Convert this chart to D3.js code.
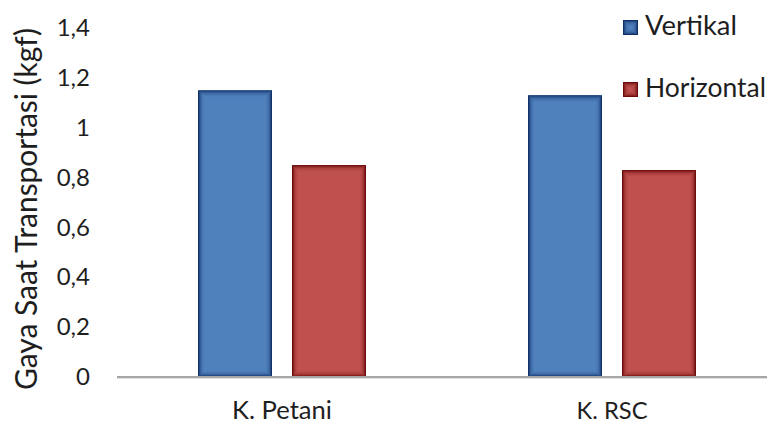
<!DOCTYPE html>
<html>
<head>
<meta charset="utf-8">
<script src="https://cdn.jsdelivr.net/npm/d3@7"></script>
<style>
  html, body { margin: 0; padding: 0; background: #fff; }
  svg { display: block; font-family: Lato, "Open Sans", sans-serif; }
</style>
</head>
<body>
<svg id="chart" width="767" height="425"></svg>
<script>
// Force during transport, per boat type
const categories = ["K. Petani", "K. RSC"];
const seriesNames = ["Vertikal", "Horizontal"];
const vertikal = [1.15, 1.13];
const horizontal = [0.85, 0.83];
const yTicks = [0, 0.2, 0.4, 0.6, 0.8, 1, 1.2, 1.4];
const yTickLabels = ["0", "0,2", "0,4", "0,6", "0,8", "1", "1,2", "1,4"];
const yTitle = "Gaya Saat Transportasi (kgf)";

const seriesValues = [vertikal, horizontal];
const fills = ["#4F81BD", "#C0504D"];
const edges = ["#0d2b62", "#650808"];
// opacities of the nested outlines that shade each bar's rim, outermost first
const rimOpacity = [0.95, 0.62, 0.38, 0.22, 0.12, 0.05];

const W = 767, H = 425;
const svg = d3.select("#chart");

const plotLeft = 117, baseY = 377, topY = 28;

const x0 = d3.scaleBand().domain(categories).range([plotLeft, plotLeft + 660]).padding(0);
const x1 = d3.scaleBand().domain(seriesNames).range([0, x0.bandwidth()])
  .paddingInner(0.2128).paddingOuter(0.862);
const y = d3.scaleLinear().domain([0, 1.4]).range([baseY, topY]);

// fit a text element's font size to a target width
function fitWidth(sel, target) {
  const node = sel.node();
  const fs = parseFloat(sel.attr("font-size"));
  const w = node.getComputedTextLength();
  sel.attr("font-size", (fs * target / w).toFixed(2));
}

// draws a filled box with a darkened rim fading inward
function bevelBox(g, x, yTop, w, h, si) {
  g.append("rect").attr("x", x).attr("y", yTop).attr("width", w).attr("height", h)
    .attr("fill", fills[si]);
  rimOpacity.forEach((op, k) => {
    const inset = k + 0.5;
    if (w - 2 * inset <= 0 || h - 2 * inset <= 0) return;
    g.append("rect")
      .attr("x", x + inset).attr("y", yTop + inset)
      .attr("width", w - 2 * inset).attr("height", h - 2 * inset)
      .attr("fill", "none").attr("stroke", edges[si]).attr("stroke-width", 1)
      .attr("stroke-opacity", op);
  });
}

// Y axis labels
const yAxis = d3.axisLeft(y).tickValues(yTicks)
  .tickFormat((d, i) => yTickLabels[i]).tickSize(0).tickPadding(27);
const gy = svg.append("g").attr("transform", `translate(${plotLeft},0)`).call(yAxis);
gy.select(".domain").remove();
gy.selectAll("text").attr("font-size", 24).attr("fill", "#1e1e1e")
  .style("font-family", "Lato, 'Open Sans', sans-serif");

// Y title
const title = svg.append("text")
  .attr("transform", `translate(37,${(28 + 390) / 2}) rotate(-90)`)
  .attr("text-anchor", "middle").attr("font-size", 28).attr("fill", "#1e1e1e")
  .text(yTitle);
fitWidth(title, 362);

// Bars
const groups = svg.append("g").selectAll("g").data(categories).join("g")
  .attr("transform", d => `translate(${x0(d)},0)`);
groups.each(function (c, ci) {
  const g = d3.select(this);
  seriesNames.forEach((s, si) => {
    const v = seriesValues[si][ci];
    bevelBox(g, x1(s), y(v), x1.bandwidth(), y(0) - y(v), si);
  });
});

// X axis line
svg.append("line").attr("x1", plotLeft).attr("x2", W).attr("y1", baseY + 1.5).attr("y2", baseY + 1.5)
  .attr("stroke", "#e0e0e0").attr("stroke-width", 1);
svg.append("line").attr("x1", plotLeft).attr("x2", W).attr("y1", baseY).attr("y2", baseY)
  .attr("stroke", "#a6a6a6").attr("stroke-width", 2);

// X labels
const xLabelTargets = [100, 71];
categories.forEach((c, i) => {
  const t = svg.append("text").attr("x", x0(c) + x0.bandwidth() / 2).attr("y", 419)
    .attr("text-anchor", "middle").attr("font-size", 22).attr("fill", "#1e1e1e").text(c);
  fitWidth(t, xLabelTargets[i]);
});

// Legend
const legendRows = [35, 97];
const legendTargets = [92, 121];
const legend = svg.append("g");
seriesNames.forEach((s, i) => {
  bevelBox(legend, 623, legendRows[i] - 15, 15, 15, i);
  const t = legend.append("text").attr("x", 645).attr("y", legendRows[i]).attr("font-size", 26)
    .attr("fill", "#1e1e1e").text(s);
  fitWidth(t, legendTargets[i]);
});
</script>
</body>
</html>
